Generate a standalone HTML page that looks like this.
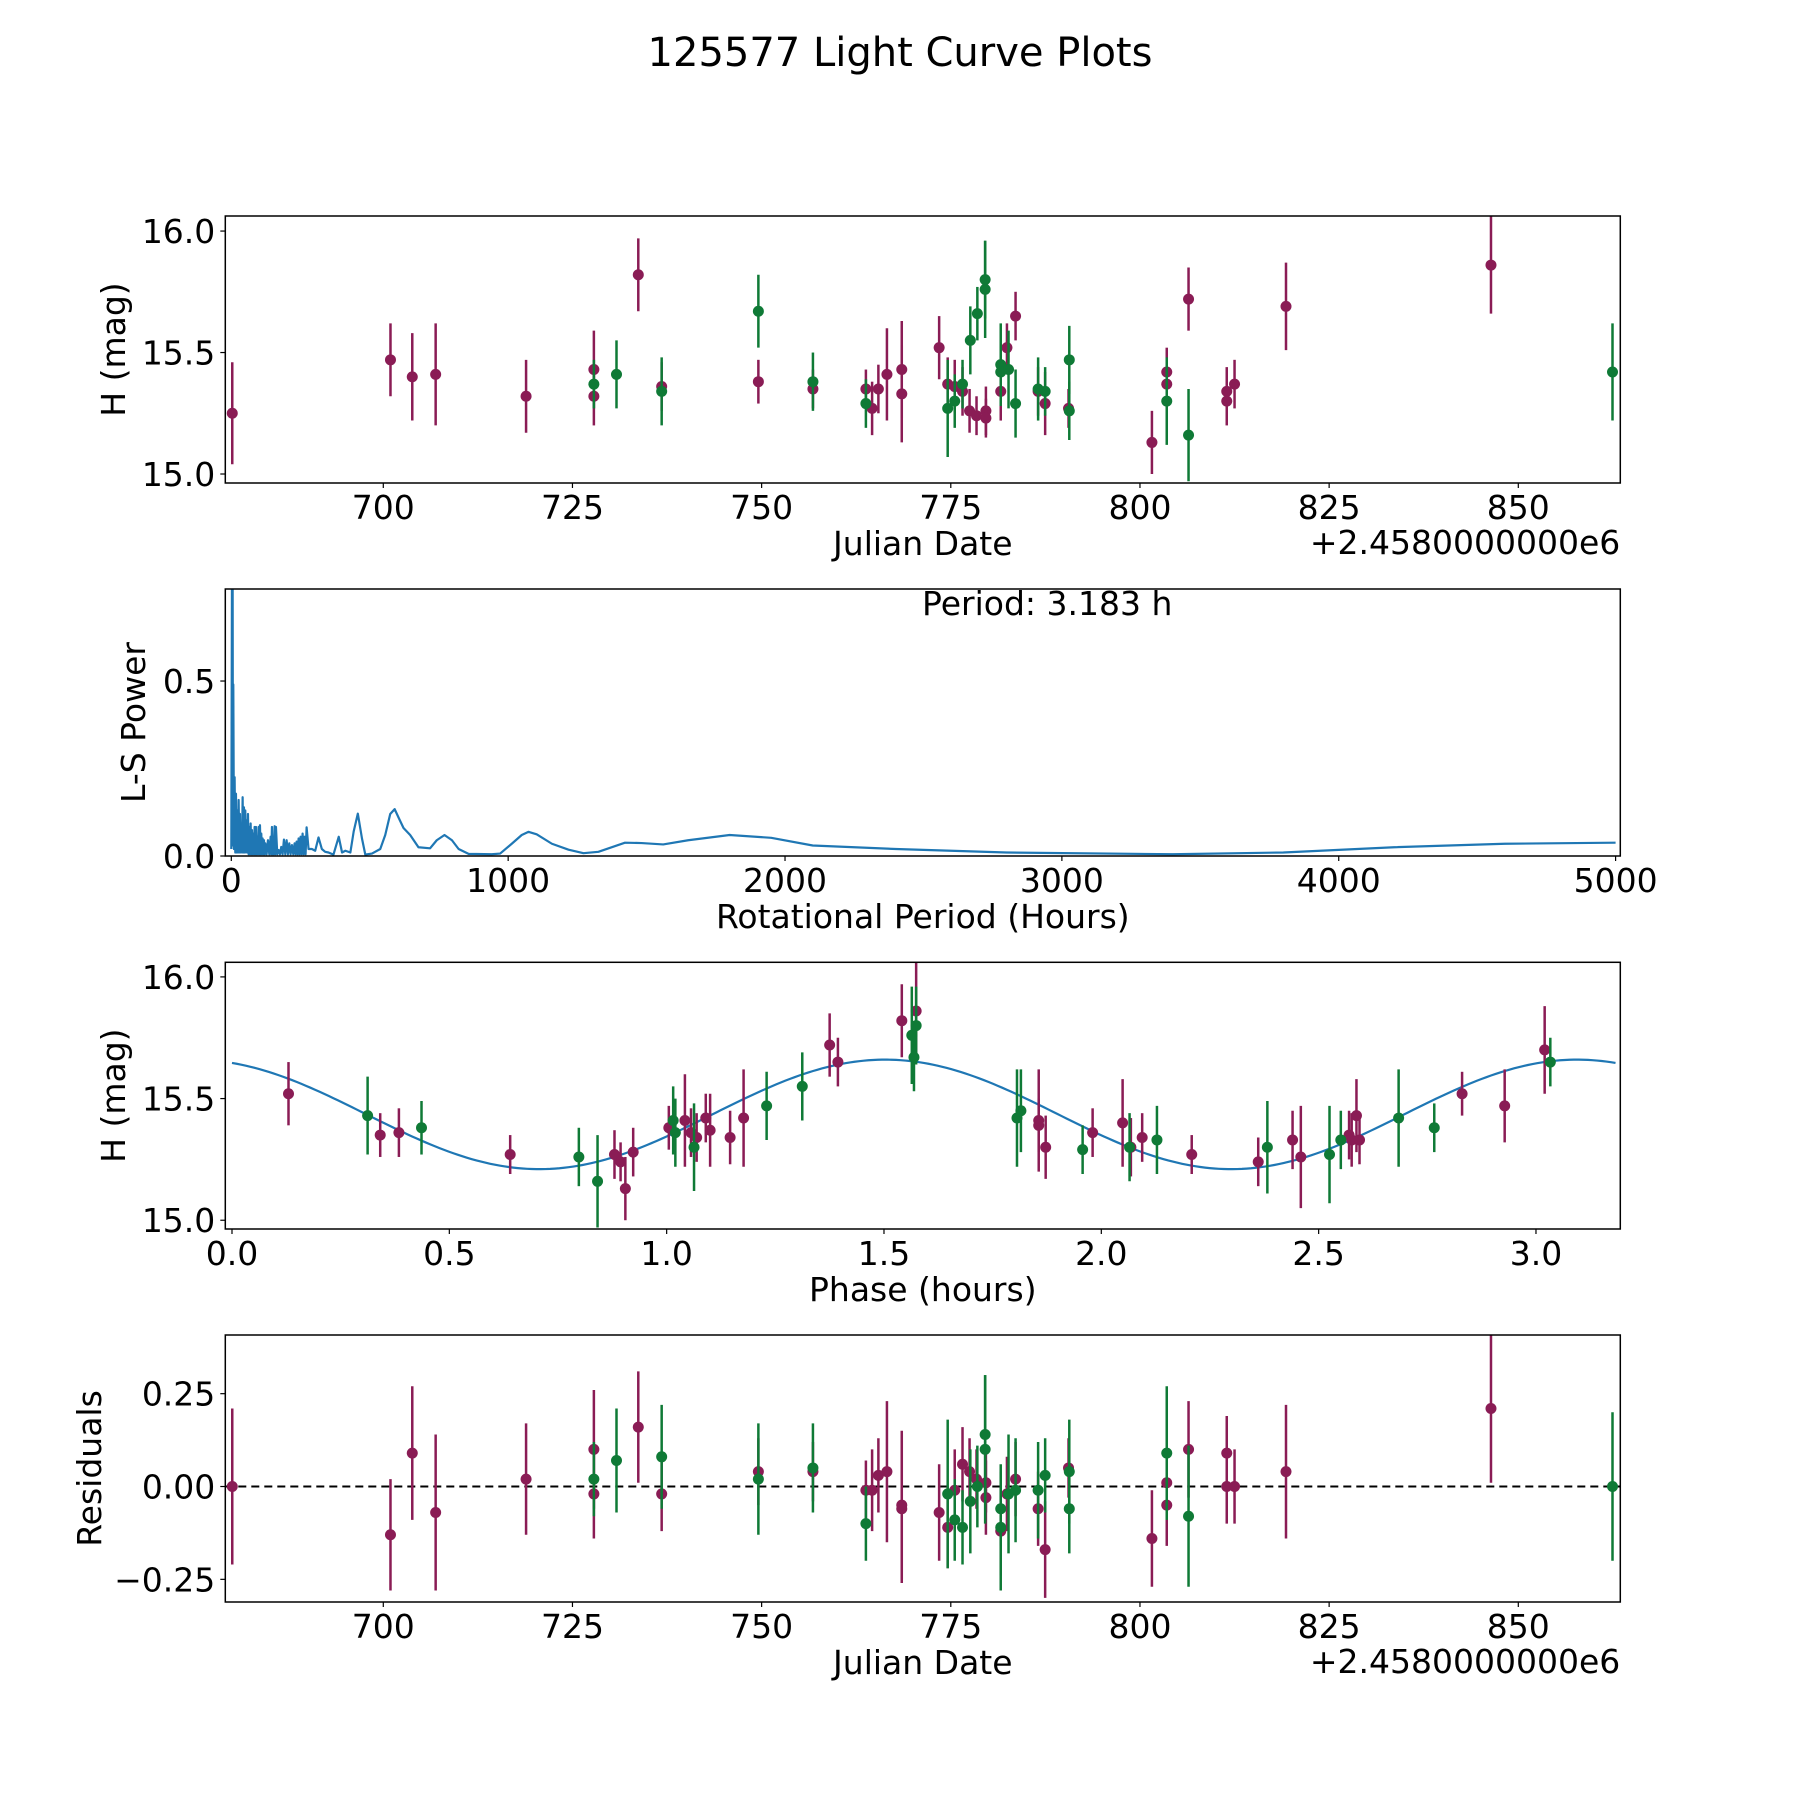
<!DOCTYPE html>
<html><head><meta charset="utf-8"><title>125577 Light Curve Plots</title>
<style>
html,body{margin:0;padding:0;background:#fff;}
svg{display:block;font-family:"DejaVu Sans","Liberation Sans",sans-serif;}
</style></head>
<body>
<svg id="fig" width="1800" height="1800" viewBox="0 0 1800 1800" xmlns="http://www.w3.org/2000/svg">
<rect width="1800" height="1800" fill="#fff"/>
<text x="900" y="66" text-anchor="middle" font-size="40" fill="#000">125577 Light Curve Plots</text>
</svg>
<script>
// ---------- DATA ----------
const datesP = [680.04,700.95,703.83,706.92,718.87,727.83,727.83,733.70,736.79,749.57,756.78,763.78,764.60,765.43,766.56,768.52,768.52,773.46,774.59,775.52,776.55,777.48,778.40,779.64,779.64,781.60,782.42,783.56,786.54,787.47,790.56,801.58,803.54,803.54,806.42,811.47,811.47,812.50,819.30,846.39];
const magP = [15.25,15.47,15.40,15.41,15.32,15.43,15.32,15.82,15.36,15.38,15.35,15.35,15.27,15.35,15.41,15.43,15.33,15.52,15.37,15.36,15.34,15.26,15.24,15.26,15.23,15.34,15.52,15.65,15.34,15.29,15.27,15.13,15.42,15.37,15.72,15.30,15.34,15.37,15.69,15.86];
const errP = [0.21,0.15,0.18,0.21,0.15,0.16,0.12,0.15,0.10,0.09,0.08,0.08,0.11,0.10,0.19,0.20,0.20,0.13,0.11,0.11,0.10,0.09,0.08,0.10,0.08,0.12,0.10,0.10,0.10,0.13,0.08,0.13,0.10,0.11,0.13,0.10,0.10,0.10,0.18,0.20];
const residP = [0.00,-0.13,0.09,-0.07,0.02,0.10,-0.02,0.16,-0.02,0.04,0.04,-0.01,-0.01,0.03,0.04,-0.06,-0.05,-0.07,-0.11,-0.01,0.06,0.04,0.02,-0.03,0.01,-0.12,-0.02,0.02,-0.06,-0.17,0.05,-0.14,0.01,-0.05,0.10,0.09,0.00,0.00,0.04,0.21];

const datesG = [727.83,730.82,736.79,749.57,756.78,763.78,774.59,775.52,776.55,777.58,778.51,779.54,779.54,781.60,781.60,782.63,783.56,786.54,787.47,790.66,790.66,803.54,806.42,862.45];
const magG = [15.37,15.41,15.34,15.67,15.38,15.29,15.27,15.30,15.37,15.55,15.66,15.76,15.80,15.45,15.42,15.43,15.29,15.35,15.34,15.47,15.26,15.30,15.16,15.42];
const errG = [0.10,0.14,0.14,0.15,0.12,0.10,0.20,0.11,0.10,0.14,0.11,0.20,0.16,0.17,0.10,0.16,0.14,0.13,0.10,0.14,0.12,0.18,0.19,0.20];
const residG = [0.02,0.07,0.08,0.02,0.05,-0.10,-0.02,-0.09,-0.11,-0.04,0.00,0.10,0.14,-0.11,-0.06,-0.02,-0.01,-0.01,0.03,0.04,-0.06,0.09,-0.08,0.00];

const phaseP = [0.130,0.341,0.384,0.640,0.880,0.894,0.905,0.923,1.005,1.042,1.056,1.069,1.090,1.100,1.146,1.177,1.375,1.394,1.541,1.574,1.856,1.856,1.872,1.980,2.049,2.068,2.094,2.208,2.361,2.440,2.459,2.570,2.576,2.587,2.594,2.830,2.928,3.020];
const phaseMagP = [15.52,15.35,15.36,15.27,15.27,15.24,15.13,15.28,15.38,15.41,15.36,15.34,15.42,15.37,15.34,15.42,15.72,15.65,15.82,15.86,15.39,15.41,15.30,15.36,15.40,15.30,15.34,15.27,15.24,15.33,15.26,15.35,15.33,15.43,15.33,15.52,15.47,15.70];
const phaseErrP = [0.13,0.09,0.10,0.08,0.10,0.08,0.13,0.10,0.09,0.19,0.10,0.10,0.10,0.15,0.11,0.20,0.13,0.10,0.15,0.20,0.11,0.21,0.13,0.10,0.18,0.12,0.10,0.08,0.10,0.12,0.21,0.10,0.11,0.15,0.10,0.09,0.15,0.18];
const phaseG = [0.312,0.436,0.798,0.841,1.015,1.020,1.063,1.230,1.312,1.564,1.574,1.569,1.806,1.815,1.957,2.065,2.128,2.382,2.525,2.551,2.684,2.766,3.033];
const phaseMagG = [15.43,15.38,15.26,15.16,15.41,15.36,15.30,15.47,15.55,15.76,15.80,15.67,15.42,15.45,15.29,15.30,15.33,15.30,15.27,15.33,15.42,15.38,15.65];
const phaseErrG = [0.16,0.11,0.12,0.19,0.14,0.14,0.18,0.14,0.14,0.20,0.16,0.14,0.20,0.17,0.10,0.14,0.14,0.19,0.20,0.12,0.20,0.10,0.10];

// fit model parameters
const fitMean = 15.435, fitAmp = 0.225, fitPeak = 1.503, fitPeriod = 3.183;

// periodogram samples
const lsPeriods = [0,2.4,3.6,4.8,6,7.2,9.6,12,14.4,16.8,19.2,21.7,24.1,26.5,28.9,31.3,33.7,36.1,38.5,40.9,43.3,45.7,48.1,50.5,53,55.4,57.8,60.2,62.6,65,67.4,69.8,72.2,74.6,77,79.4,81.8,84.2,86.6,89,91.4,93.9,96.3,98.7,101.1,103.5,105.9,108.3,110.7,113.1,115.5,117.9,120.3,122.7,127.5,132.4,137.2,142,144.4,146.8,149.2,151.6,154,156.4,158.8,161.2,166,170.9,175.7,180.5,185.3,190.1,195,199.8,204.6,209.4,214.2,219,223.8,228.6,232.2,235.9,239.5,243.1,246.7,250.3,253.9,257.5,261.1,264.7,268.3,272,279,291,303,315,327,339,351,369,388,400,412,430,442,457,472,484,508,538,556,574,590,604,622,646,676,718,742,770,797,821,857,941,971,1013,1049,1073,1103,1158,1218,1272,1326,1422,1482,1560,1650,1800,1950,2100,2400,2800,3400,3800,4200,4600,5000];
const lsPowers = [0.02,0.80,0.05,0.80,0.03,0.49,0.02,0.225,0.01,0.178,0.01,0.13,0.01,0.16,0.01,0.12,0.01,0.093,0.01,0.168,0.01,0.139,0.01,0.13,0.01,0.102,0.01,0.12,0.005,0.083,0.005,0.093,0.005,0.074,0.005,0.064,0.005,0.083,0.005,0.083,0.005,0.055,0.005,0.083,0.005,0.088,0.005,0.064,0.005,0.050,0.005,0.045,0.005,0.036,0.005,0.045,0.005,0.055,0.005,0.083,0.005,0.036,0.005,0.085,0.005,0.083,0.005,0.017,0.005,0.026,0.005,0.047,0.005,0.045,0.005,0.036,0.005,0.031,0.005,0.036,0.005,0.041,0.005,0.050,0.005,0.055,0.005,0.064,0.005,0.055,0.005,0.082,0.02,0.02,0.015,0.053,0.02,0.012,0.01,0.004,0.055,0.01,0.015,0.01,0.07,0.121,0.05,0.004,0.007,0.02,0.06,0.12,0.134,0.11,0.08,0.06,0.025,0.022,0.045,0.06,0.045,0.02,0.006,0.005,0.007,0.035,0.06,0.069,0.062,0.035,0.018,0.008,0.012,0.038,0.037,0.033,0.045,0.06,0.052,0.03,0.02,0.01,0.005,0.01,0.025,0.035,0.038];

const jdTicks = [700,725,750,775,800,825,850];
const magTicks = [15.0,15.5,16.0];
const magTickLabels = ["15.0","15.5","16.0"];
const lsXTicks = [0,1000,2000,3000,4000,5000];
const lsYTicks = [0.0,0.5];
const lsYTickLabels = ["0.0","0.5"];
const phaseTicks = [0,0.5,1.0,1.5,2.0,2.5,3.0];
const phaseTickLabels = ["0.0","0.5","1.0","1.5","2.0","2.5","3.0"];
const resTicks = [-0.25,0,0.25];
const resTickLabels = ["\u22120.25","0.00","0.25"];

// ---------- RENDER ----------
const NS = "http://www.w3.org/2000/svg";
const svg = document.getElementById("fig");
const PURPLE = "#8a1c55", GREEN = "#0f7a36", BLUE = "#1f77b4";
const L = 225.3, R = 1620.3;
function mk(tag, attrs, parent){ const e=document.createElementNS(NS,tag); for(const k in attrs) e.setAttribute(k,attrs[k]); (parent||svg).appendChild(e); return e; }
function lin(d0,d1,p0,p1){ return v => p0 + (v-d0)*(p1-p0)/(d1-d0); }

function makeAxes(name, top, bottom, xlim, ylim){
  const g = mk("g",{});
  
  
  const sx = lin(xlim[0],xlim[1],L,R), sy = lin(ylim[0],ylim[1],bottom,top);
  const clipId = name+"-clip";
  const cp = mk("clipPath",{id:clipId},g);
  mk("rect",{x:L,y:top,width:R-L,height:bottom-top},cp);
  const plot = mk("g",{"clip-path":"url(#"+clipId+")"},g);
  return {g,plot,sx,sy,top,bottom};
}
function frame(ax){
  const f = mk("rect",{x:L,y:ax.top,width:R-L,height:ax.bottom-ax.top,fill:"none",stroke:"#000","stroke-width":1.5},ax.g);
  
  
}
function xTicks(ax, vals, labels, name){
  vals.forEach((v,i)=>{
    const x = ax.sx(v);
    mk("line",{x1:x,x2:x,y1:ax.bottom,y2:ax.bottom+5,stroke:"#000","stroke-width":1.2},ax.g);
    const t = mk("text",{x:x,y:ax.bottom+36,"text-anchor":"middle","font-size":33},ax.g);
    t.textContent = labels[i];
    
    
  });
}
function yTicks(ax, vals, labels, name){
  vals.forEach((v,i)=>{
    const y = ax.sy(v);
    mk("line",{x1:L-5,x2:L,y1:y,y2:y,stroke:"#000","stroke-width":1.2},ax.g);
    const t = mk("text",{x:L-10,y:y+12,"text-anchor":"end","font-size":33},ax.g);
    t.textContent = labels[i];
    
    
  });
}
function xLabel(ax, txt, name){
  const t = mk("text",{x:(L+R)/2,y:ax.bottom+72,"text-anchor":"middle","font-size":33},ax.g);
  t.textContent = txt;
  
  
}
function yLabel(ax, txt, x, name){
  const cy=(ax.top+ax.bottom)/2;
  const t = mk("text",{x:x,y:cy,"text-anchor":"middle","font-size":33,transform:"rotate(-90 "+x+" "+cy+")"},ax.g);
  t.textContent = txt;
  
  
}
function offsetText(ax){
  const t = mk("text",{x:R,y:ax.bottom+71,"text-anchor":"end","font-size":33},ax.g);
  t.textContent = "+2.4580000000e6";
  
  
}
function errPoints(ax, xs, ys, es, color, name){
  xs.forEach((xv,i)=>{
    const x=ax.sx(xv), y=ax.sy(ys[i]);
    const ln = mk("line",{x1:x,x2:x,y1:ax.sy(ys[i]-es[i]),y2:ax.sy(ys[i]+es[i]),stroke:color,"stroke-width":2.5},ax.plot);
    
    
    const c = mk("circle",{cx:x,cy:y,r:5.5,fill:color},ax.plot);
    
    
  });
}

// Plot 1: light curve
const ax1 = makeAxes("light-curve-axes",216,483,[679.12,863.48],[14.963,16.062]);
errPoints(ax1, datesP, magP, errP, PURPLE, "purple-obs");
errPoints(ax1, datesG, magG, errG, GREEN, "green-obs");
frame(ax1);
xTicks(ax1, jdTicks, jdTicks.map(String), "x-tick-label");
yTicks(ax1, magTicks, magTickLabels, "y-tick-label");
xLabel(ax1, "Julian Date", "x-axis-title");
yLabel(ax1, "H (mag)", 125, "y-axis-title");
offsetText(ax1);

// Plot 2: periodogram
const ax2 = makeAxes("periodogram-axes",589,856,[-21.7,5017],[0,0.763]);
const pts = lsPeriods.map((p,i)=>ax2.sx(p).toFixed(2)+","+ax2.sy(lsPowers[i]).toFixed(2)).join(" ");
const pl = mk("polyline",{points:pts,fill:"none",stroke:BLUE,"stroke-width":2.2,"stroke-linejoin":"round"},ax2.plot);


frame(ax2);
xTicks(ax2, lsXTicks, lsXTicks.map(String), "x-tick-label");
yTicks(ax2, lsYTicks, lsYTickLabels, "y-tick-label");
xLabel(ax2, "Rotational Period (Hours)", "x-axis-title");
yLabel(ax2, "L-S Power", 145, "y-axis-title");
const pt = mk("text",{x:922,y:615,"font-size":33},ax2.g);
pt.textContent = "Period: 3.183 h";



// Plot 3: phased
const ax3 = makeAxes("phase-axes",962.3,1229,[-0.0154,3.194],[14.964,16.060]);
const fitPts=[];
for(let i=0;i<=300;i++){ const ph=fitPeriod*i/300; const m=fitMean+fitAmp*Math.cos(2*Math.PI*(ph-fitPeak)/(fitPeriod/2)); fitPts.push(ax3.sx(ph).toFixed(2)+","+ax3.sy(m).toFixed(2)); }
const fl = mk("polyline",{points:fitPts.join(" "),fill:"none",stroke:BLUE,"stroke-width":2.2},ax3.plot);


errPoints(ax3, phaseP, phaseMagP, phaseErrP, PURPLE, "purple-phase");
errPoints(ax3, phaseG, phaseMagG, phaseErrG, GREEN, "green-phase");
frame(ax3);
xTicks(ax3, phaseTicks, phaseTickLabels, "x-tick-label");
yTicks(ax3, magTicks, magTickLabels, "y-tick-label");
xLabel(ax3, "Phase (hours)", "x-axis-title");
yLabel(ax3, "H (mag)", 125, "y-axis-title");

// Plot 4: residuals
const ax4 = makeAxes("residuals-axes",1335,1602,[679.12,863.48],[-0.311,0.408]);
const zl = mk("line",{x1:L,x2:R,y1:ax4.sy(0),y2:ax4.sy(0),stroke:"#000","stroke-width":2,"stroke-dasharray":"8,5"},ax4.plot);


errPoints(ax4, datesP, residP, errP, PURPLE, "purple-resid");
errPoints(ax4, datesG, residG, errG, GREEN, "green-resid");
frame(ax4);
xTicks(ax4, jdTicks, jdTicks.map(String), "x-tick-label");
yTicks(ax4, resTicks, resTickLabels, "y-tick-label");
xLabel(ax4, "Julian Date", "x-axis-title");
yLabel(ax4, "Residuals", 101, "y-axis-title");
offsetText(ax4);
</script>
</body></html>
